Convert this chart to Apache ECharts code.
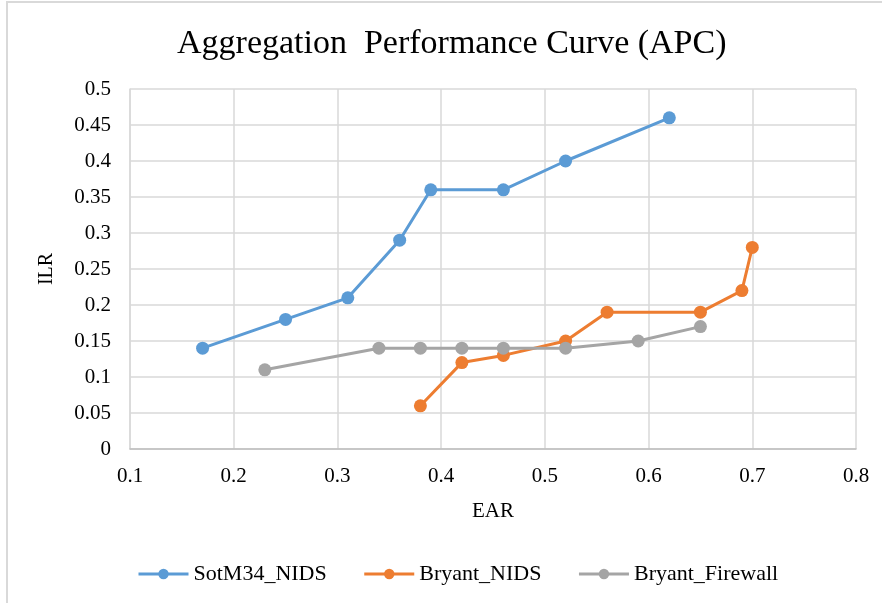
<!DOCTYPE html>
<html>
<head>
<meta charset="utf-8">
<script src="https://cdn.jsdelivr.net/npm/echarts@6/dist/echarts.min.js"></script>
<style>
  html, body { margin: 0; padding: 0; background: #fff; }
  #wrap { position: relative; width: 882px; height: 603px; overflow: hidden; }
  #frame { position: absolute; left: 6px; top: 1px; width: 900px; height: 700px;
           border-left: 2px solid #d9d9d9; border-top: 2px solid #d9d9d9; }
  #main { position: absolute; left: 0; top: 0; width: 882px; height: 603px; }
</style>
</head>
<body>
<div id="wrap">
  <div id="frame"></div>
  <div id="main"></div>
</div>
<script>
// data
const sotmEar = [0.17, 0.25, 0.31, 0.36, 0.39, 0.46, 0.52, 0.62]
const sotmIlr = [0.14, 0.18, 0.21, 0.29, 0.36, 0.36, 0.40, 0.46]
const nidsEar = [0.38, 0.42, 0.46, 0.52, 0.56, 0.65, 0.69, 0.70]
const nidsIlr = [0.06, 0.12, 0.13, 0.15, 0.19, 0.19, 0.22, 0.28]
const fwEar = [0.23, 0.34, 0.38, 0.42, 0.46, 0.52, 0.59, 0.65]
const fwIlr = [0.11, 0.14, 0.14, 0.14, 0.14, 0.14, 0.15, 0.17]
const seriesNames = ['SotM34_NIDS', 'Bryant_NIDS', 'Bryant_Firewall']
const colors = ['#5b9bd5', '#ed7d31', '#a5a5a5']

const zip = (xs, ys) => xs.map((x, i) => [x, ys[i]])
const font = '"Liberation Serif", "Times New Roman", serif'

const chart = echarts.init(document.getElementById('main'))
const makeSeries = (name, data, color) => ({
  name: name,
  type: 'line',
  data: data,
  symbol: 'circle',
  symbolSize: 13,
  color: color,
  lineStyle: { width: 3, color: color },
  itemStyle: { color: color },
  emphasis: { disabled: true },
})

chart.setOption({
  animation: false,
  title: {
    text: 'Aggregation  Performance Curve (APC)',
    left: 172,
    top: 22,
    textStyle: { fontFamily: font, fontSize: 34, fontWeight: 'normal', color: '#000' },
  },
  legend: {
    top: 558,
    left: 132,
    itemWidth: 50,
    itemHeight: 13,
    itemGap: 36,
    lineStyle: { width: 3 },
    textStyle: { fontFamily: font, fontSize: 22, color: '#000' },
    data: seriesNames,
  },
  grid: { left: 130, right: 26, top: 89, bottom: 154 },
  xAxis: {
    type: 'value',
    min: 0.1,
    max: 0.8,
    interval: 0.1,
    name: 'EAR',
    nameLocation: 'middle',
    nameGap: 52,
    nameTextStyle: { fontFamily: font, fontSize: 21, color: '#000' },
    axisLine: { show: true, lineStyle: { color: '#bfbfbf', width: 1.5 } },
    axisTick: { show: false },
    axisLabel: { fontFamily: font, fontSize: 21, color: '#000', margin: 17, formatter: v => +v.toFixed(1) + '' },
    splitLine: { show: true, lineStyle: { color: '#d9d9d9', width: 1.5 } },
  },
  yAxis: {
    type: 'value',
    min: 0,
    max: 0.5,
    interval: 0.05,
    name: 'ILR',
    nameLocation: 'middle',
    nameGap: 73,
    nameRotate: 90,
    nameTextStyle: { fontFamily: font, fontSize: 20, color: '#000' },
    axisLine: { show: true, lineStyle: { color: '#d9d9d9', width: 1.5 } },
    axisTick: { show: false },
    axisLabel: { fontFamily: font, fontSize: 21, color: '#000', margin: 19, formatter: v => +v.toFixed(2) + '' },
    splitLine: { show: true, lineStyle: { color: '#d9d9d9', width: 1.5 } },
  },
  series: [
    makeSeries(seriesNames[0], zip(sotmEar, sotmIlr), colors[0]),
    makeSeries(seriesNames[1], zip(nidsEar, nidsIlr), colors[1]),
    makeSeries(seriesNames[2], zip(fwEar, fwIlr), colors[2]),
  ],
})
</script>
</body>
</html>
